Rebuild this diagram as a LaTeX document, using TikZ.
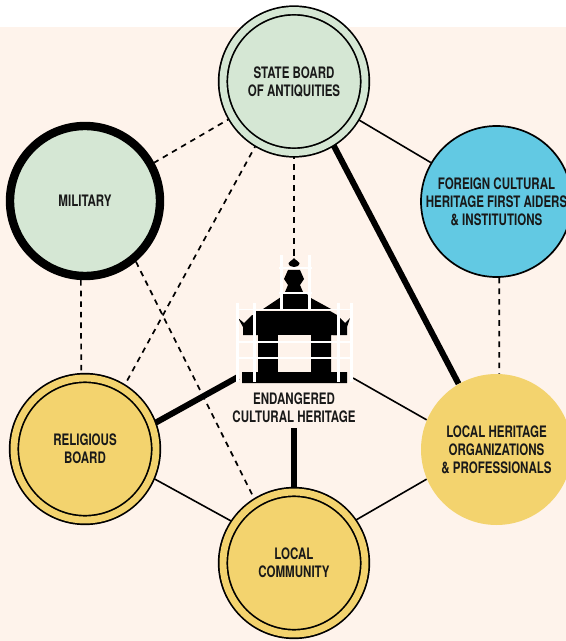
\documentclass[tikz,border=0pt]{standalone}
\usepackage{fontspec}
\setmainfont{TeX Gyre Heros}[FakeStretch=0.73]
\usetikzlibrary{backgrounds, positioning}
\definecolor{cream}{HTML}{FEF3EB}
\definecolor{sage}{HTML}{D5E7D4}
\definecolor{sky}{HTML}{62C9E3}
\definecolor{sand}{HTML}{F3D36E}
\tikzstyle{actor}=[circle,align=center,inner sep=0pt,font=\fontsize{7.9}{9}\selectfont\bfseries,text=black!90]
\tikzstyle{ringed}=[actor,draw,line width=0.85pt,double distance=3.45pt,minimum size=71pt]
\tikzstyle{plain}=[actor,minimum size=75.5pt]
\tikzstyle{weak}=[line width=0.85pt,dash pattern=on 2.8pt off 2.5pt]
\tikzstyle{medium}=[line width=0.8pt]
\tikzstyle{strong}=[line width=3pt]
\tikzstyle{pole}=[draw=white,line width=1.5pt]
\tikzstyle{rail}=[draw=white,line width=0.9pt]

\begin{document}
\begin{tikzpicture}[x=0.5pt,y=-0.5pt]
    \useasboundingbox (0, 0) rectangle (566, 641);

    \node (state)[ringed,double=sage,fill=sage] at (294, 81.5) {STATE BOARD\\OF ANTIQUITIES};
    \node (military)[plain,fill=sage,draw,line width=4.2pt,minimum size=75pt] at (85, 201) {MILITARY};
    \node (foreign)[plain,fill=sky,draw,line width=0.85pt,minimum size=75.5pt] at (496.5, 201.5) {FOREIGN CULTURAL\\HERITAGE FIRST AIDERS\\\& INSTITUTIONS};
    \node (religious)[ringed,double=sand,fill=sand] at (85, 449) {RELIGIOUS\\BOARD};
    \node (community)[ringed,double=sand,fill=sand] at (294, 563) {LOCAL\\COMMUNITY};
    \node (organizations)[plain,fill=sand] at (496.5, 449.5) {LOCAL HERITAGE\\ORGANIZATIONS\\\& PROFESSIONALS};
    \node (heritage)[actor,rectangle,minimum size=0pt,inner ysep=2.5pt] at (294, 408) {ENDANGERED\\CULTURAL HERITAGE};

    % the building, with its scaffolding on top
    \fill (293, 252) rectangle (295, 256);
    \fill (294, 258) .. controls (296, 261) and (299, 261) .. (299.5, 263) .. controls (299.5, 266) and (296, 267) .. (294, 267) .. controls (292, 267) and (288.5, 266) .. (288.5, 263) .. controls (289, 261) and (292, 261) .. (294, 258);
    \fill (288, 270) -- (300, 270) -- (304, 279) -- (300, 285) -- (303, 292) -- (285, 292) -- (288, 285) -- (284, 279) -- cycle;
    \fill (263, 309) -- (281, 297) -- (283, 294) -- (307, 294) -- (309, 297) -- (331, 309) -- cycle;
    \fill (255, 311) -- (330, 311) -- (337, 315) -- (337, 335) -- (331, 335) -- (331, 372) -- (347, 372) -- (347, 383) -- (242, 383) -- (242, 372) -- (258, 372) -- (258, 335) -- (255, 335) -- cycle;
    \fill[cream] (278, 335) rectangle (311, 372);
    \fill (252, 315) -- (256, 315) -- (256, 335) -- (243, 335) -- (243, 327) -- (238, 318) -- (244, 323) -- cycle;
    \fill (337, 315) -- (333, 315) -- (333, 335) -- (347, 335) -- (347, 327) -- (350, 318) -- (345, 323) -- cycle;
    \draw[rail] (236, 309.5) -- (352, 309.5);
    \draw[rail] (236, 342) -- (352, 342);
    \draw[rail] (236, 358) -- (352, 358);
    \draw[rail] (279, 268) -- (312, 268);
    \draw[rail] (279, 293) -- (312, 293);
    \draw[pole] (281, 255) -- (281, 309);
    \draw[pole] (309, 255) -- (309, 309);
    \draw[pole] (237, 303) -- (237, 382);
    \draw[pole] (254, 303) -- (254, 382);
    \draw[pole] (338, 303) -- (338, 382);
    \draw[pole] (351, 303) -- (351, 382);
    \coordinate (spire) at (294, 258);
    \coordinate (baseL) at (238, 377);
    \coordinate (baseR) at (353, 378);

    \begin{scope}[on background layer]
    \fill[cream] (0, 27) rectangle (566, 641);
    \draw[weak] (state.210) -- (military.29);
    \draw[weak] (state.-121) -- (religious.58);
    \draw[weak] (state) -- (spire);
    \draw[weak] (military.-93) -- (religious.93);
    \draw[weak] (military.-50) -- (community.122);
    \draw[weak] (foreign.-88) -- (organizations.88);
    \draw[medium] (state) -- (foreign);
    \draw[medium] (baseR) -- (organizations.157);
    \draw[medium] (religious.-23) -- (community.146);
    \draw[medium] (community.35) -- (organizations.203);
    \draw[strong] (state.-58) -- (organizations.120);
    \draw[strong] (baseL) -- (religious.20);
    \draw[strong] (heritage) -- (community);
    \end{scope}
\end{tikzpicture}
\end{document}
